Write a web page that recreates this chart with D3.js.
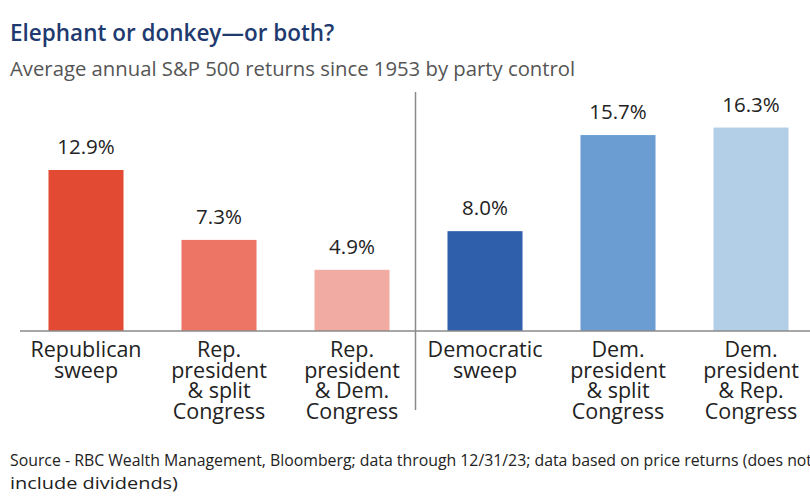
<!DOCTYPE html>
<html>
<head>
<meta charset="utf-8">
<script src="https://cdn.jsdelivr.net/npm/d3@7"></script>
<style>
  body { margin: 0; background: #fff; }
  text { font-family: "Open Sans", Lato, sans-serif; }
</style>
</head>
<body>
<div id="chart"></div>
<script>
'use strict'
var width = 810;
var height = 499;

var categories = ["rs", "rsplit", "rdem", "ds", "dsplit", "drep"];
var labelLines = [
	["Republican", "sweep"],
	["Rep.", "president", "& split", "Congress"],
	["Rep.", "president", "& Dem.", "Congress"],
	["Democratic", "sweep"],
	["Dem.", "president", "& split", "Congress"],
	["Dem.", "president", "& Rep.", "Congress"]
];
var values = [12.9, 7.3, 4.9, 8.0, 15.7, 16.3];
var valueLabels = ["12.9%", "7.3%", "4.9%", "8.0%", "15.7%", "16.3%"];
var colors = ["#e24a33", "#ec7565", "#f2aba3", "#2f5fab", "#6b9dd3", "#b3cfe7"];

var svg = d3.select("#chart")
	.append("svg")
	.attr("width", width)
	.attr("height", height);

// title + subtitle
svg.append("text")
	.attr("x", 10).attr("y", 41)
	.text("Elephant or donkey\u2014or both?")
	.style("font-size", "22.5px")
	.style("font-weight", "600")
	.style("fill", "#1f3a6f");

svg.append("text")
	.attr("x", 10).attr("y", 76)
	.text("Average annual S&P 500 returns since 1953 by party control")
	.style("font-size", "20.3px")
	.style("fill", "#555");

var baseY = 331;

var x = d3.scaleBand()
	.domain(categories)
	.range([19.5, 817.5])
	.paddingInner(0.436)
	.paddingOuter(0.218);

var y = d3.scaleLinear()
	.domain([0, 20])
	.range([baseY, baseY - 249.6]);

// bars
svg.append("g")
	.selectAll("rect")
	.data(values)
	.enter()
	.append("rect")
		.attr("x", function(d, i){ return x(categories[i]); })
		.attr("y", function(d){ return y(d); })
		.attr("width", x.bandwidth())
		.attr("height", function(d){ return y(0) - y(d); })
		.attr("fill", function(d, i){ return colors[i]; });

// value labels
svg.append("g")
	.selectAll("text")
	.data(values)
	.enter()
	.append("text")
		.attr("x", function(d, i){ return x(categories[i]) + x.bandwidth() / 2; })
		.attr("y", function(d){ return y(d) - 16; })
		.attr("text-anchor", "middle")
		.text(function(d, i){ return valueLabels[i]; })
		.style("font-size", "20.5px")
		.style("fill", "#222");

// baseline
svg.append("line")
	.attr("x1", 20).attr("x2", 810)
	.attr("y1", baseY).attr("y2", baseY)
	.style("stroke", "#8a8a8a")
	.style("stroke-width", 1.5);

// divider between the two parties
var divX = x(categories[3]) - (x.step() - x.bandwidth()) / 2 - 3;
svg.append("line")
	.attr("x1", divX).attr("x2", divX)
	.attr("y1", 92).attr("y2", 410)
	.style("stroke", "#8a8a8a")
	.style("stroke-width", 1.5);

// category labels
var cat = svg.append("g")
	.selectAll("text")
	.data(labelLines)
	.enter()
	.append("text")
		.attr("text-anchor", "middle")
		.attr("transform", function(d, i){ return "translate(" + (x(categories[i]) + x.bandwidth() / 2) + ",357)"; })
		.style("font-size", "21.5px")
		.style("fill", "#222");

cat.selectAll("tspan")
	.data(function(d){ return d; })
	.enter()
	.append("tspan")
		.attr("x", 0)
		.attr("y", function(d, i){ return i * 20.5; })
		.text(function(d){ return d; });

// source note
svg.append("text")
	.attr("x", 10).attr("y", 466)
	.attr("textLength", 802)
	.attr("lengthAdjust", "spacingAndGlyphs")
	.text("Source - RBC Wealth Management, Bloomberg; data through 12/31/23; data based on price returns (does not")
	.style("font-size", "16px")
	.style("fill", "#222");

svg.append("text")
	.attr("x", 10).attr("y", 489)
	.attr("textLength", 168)
	.attr("lengthAdjust", "spacingAndGlyphs")
	.text("include dividends)")
	.style("font-size", "16px")
	.style("fill", "#222");
</script>
</body>
</html>
